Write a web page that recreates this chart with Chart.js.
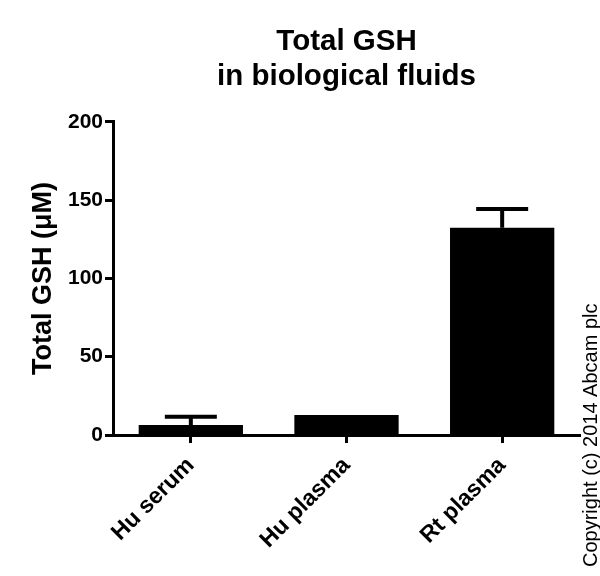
<!DOCTYPE html>
<html>
<head>
<meta charset="utf-8">
<script src="https://cdn.jsdelivr.net/npm/chart.js@4"></script>
<style>
html,body{margin:0;padding:0;background:#fff;}
#wrap{width:600px;height:576px;position:relative;}
</style>
</head>
<body>
<div id="wrap"><canvas id="c" width="600" height="576"></canvas></div>
<script>
const categories = ['Hu serum', 'Hu plasma', 'Rt plasma'];
const meanValues = [6.4, 12.8, 132.4];
const errorValues = [5.3, 0, 11.9];
const yTicks = [0, 50, 100, 150, 200];
const titleLines = ['Total GSH', 'in biological fluids'];
const yTitle = 'Total GSH (\u03BCM)';
const copyright = 'Copyright (c) 2014 Abcam plc';

const FONT = '"Liberation Sans", Arial, Helvetica, sans-serif';

const errorBars = {
  id: 'errorBars',
  afterDatasetsDraw(chart) {
    const ctx = chart.ctx;
    const meta = chart.getDatasetMeta(0);
    const y = chart.scales.y;
    ctx.save();
    ctx.strokeStyle = '#000';
    ctx.lineWidth = 4;
    meta.data.forEach((bar, i) => {
      const e = errorValues[i];
      if (!e) return;
      const x = bar.x;
      const y0 = y.getPixelForValue(meanValues[i]);
      const y1 = y.getPixelForValue(meanValues[i] + e);
      ctx.beginPath();
      ctx.moveTo(x, y0);
      ctx.lineTo(x, y1);
      ctx.moveTo(x - 26, y1);
      ctx.lineTo(x + 26, y1);
      ctx.stroke();
    });
    ctx.restore();
  }
};

const copyrightPlugin = {
  id: 'copyrightText',
  afterDraw(chart) {
    const ctx = chart.ctx;
    ctx.save();
    ctx.translate(597, 567);
    ctx.rotate(-Math.PI / 2);
    ctx.font = '20px ' + FONT;
    ctx.fillStyle = '#000';
    ctx.textAlign = 'left';
    ctx.textBaseline = 'alphabetic';
    ctx.fillText(copyright, 0, 0);
    ctx.restore();
  }
};

new Chart(document.getElementById('c'), {
  type: 'bar',
  data: {
    labels: categories,
    datasets: [{
      data: meanValues,
      backgroundColor: '#000',
      borderWidth: 0,
      barPercentage: 0.67,
      categoryPercentage: 1.0
    }]
  },
  options: {
    responsive: false,
    animation: false,
    layout: { padding: { left: 0, right: 20, top: 0, bottom: 0 } },
    plugins: {
      legend: { display: false },
      tooltip: { enabled: false },
      title: {
        display: true,
        text: titleLines,
        fullSize: false,
        color: '#000',
        font: { family: FONT, size: 29.5, weight: 'bold', lineHeight: 1.2 },
        padding: { top: 24, bottom: 27 }
      }
    },
    scales: {
      x: {
        grid: { offset: false, drawOnChartArea: false, drawTicks: true, tickLength: 8, tickWidth: 3, tickColor: '#000' },
        border: { display: true, width: 3, color: '#000' },
        ticks: {
          color: '#000',
          font: { family: FONT, size: 23, weight: 'bold' },
          minRotation: 45, maxRotation: 45,
          padding: 9
        },
        afterFit(scale) { scale.height = 141; }
      },
      y: {
        min: 0, max: 200,
        afterBuildTicks(scale) { scale.ticks = yTicks.map(v => ({ value: v })); },
        grid: { drawOnChartArea: false, drawTicks: true, tickLength: 8, tickWidth: 3, tickColor: '#000' },
        border: { display: true, width: 3, color: '#000' },
        ticks: {
          color: '#000',
          font: { family: FONT, size: 21, weight: 'bold' },
          padding: 2
        },
        title: {
          display: true,
          text: yTitle,
          color: '#000',
          font: { family: FONT, size: 27, weight: 'bold' },
          padding: { top: 27, bottom: 0 }
        },
        afterFit(scale) { scale.width = 113; }
      }
    }
  },
  plugins: [errorBars, copyrightPlugin]
});
</script>
</body>
</html>
